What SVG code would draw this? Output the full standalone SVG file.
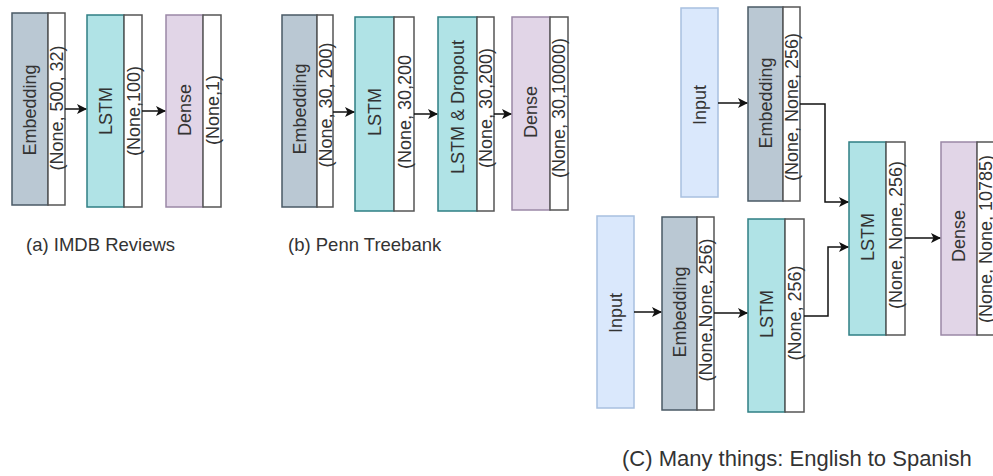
<svg xmlns="http://www.w3.org/2000/svg" width="993" height="476" viewBox="0 0 993 476">
<style>
.emb{fill:#bac8d3;stroke:#4a5a66;stroke-width:1.5}
.lstm{fill:#b0e3e6;stroke:#2f7f84;stroke-width:1.5}
.dense{fill:#e1d5e7;stroke:#9a88a6;stroke-width:1.5}
.inp{fill:#dae8fc;stroke:#a8c0e0;stroke-width:1.5}
.sh{fill:#ffffff;stroke:#555555;stroke-width:1.5}
.lbl{font-family:"Liberation Sans",Arial,sans-serif;font-size:18px;fill:#333333;text-anchor:middle;dominant-baseline:central}
.cap{font-family:"Liberation Sans",Arial,sans-serif;font-size:18.5px;fill:#333333}
.conn{fill:none;stroke:#111111;stroke-width:1.5}
</style>
<defs>
<marker id="ah" viewBox="0 0 10 10" refX="9" refY="5" markerWidth="10" markerHeight="10" markerUnits="userSpaceOnUse" orient="auto">
<path d="M0,0 L10,5 L0,10 L2.5,5 Z" fill="#111111"/>
</marker>
</defs>
<rect width="993" height="476" fill="#ffffff"/>

<!-- Panel (a) -->
<g id="a-embedding">
<rect class="emb" x="12" y="13" width="36" height="192"/>
<rect class="sh" x="48" y="13" width="17" height="192"/>
<text class="lbl" transform="translate(30,110) rotate(-90)">Embedding</text>
<text class="lbl" transform="translate(57,108) rotate(-90)">(None, 500, 32)</text>
</g>
<g id="a-lstm">
<rect class="lstm" x="87" y="15" width="37" height="192"/>
<rect class="sh" x="124" y="15" width="18" height="192"/>
<text class="lbl" transform="translate(105.5,111) rotate(-90)">LSTM</text>
<text class="lbl" transform="translate(134,111) rotate(-90)">(None,100)</text>
</g>
<g id="a-dense">
<rect class="dense" x="166" y="15" width="37" height="192"/>
<rect class="sh" x="203" y="15" width="18" height="192"/>
<text class="lbl" transform="translate(184.5,110) rotate(-90)">Dense</text>
<text class="lbl" transform="translate(213,110) rotate(-90)">(None,1)</text>
</g>
<g id="caption-a"><text class="cap" x="26" y="251">(a) IMDB Reviews</text></g>

<!-- Panel (b) -->
<g id="b-embedding">
<rect class="emb" x="282" y="15" width="35" height="192"/>
<rect class="sh" x="317" y="15" width="16" height="192"/>
<text class="lbl" transform="translate(300,109) rotate(-90)">Embedding</text>
<text class="lbl" transform="translate(325.5,105) rotate(-90)">(None, 30, 200)</text>
</g>
<g id="b-lstm">
<rect class="lstm" x="355" y="17" width="39" height="194"/>
<rect class="sh" x="394" y="17" width="20" height="194"/>
<text class="lbl" transform="translate(375,112) rotate(-90)">LSTM</text>
<text class="lbl" transform="translate(405,112) rotate(-90)">(None, 30,200</text>
</g>
<g id="b-lstm-dropout">
<rect class="lstm" x="438" y="17" width="39" height="194"/>
<rect class="sh" x="477" y="17" width="17" height="194"/>
<text class="lbl" transform="translate(458,107) rotate(-90)">LSTM &amp; Dropout</text>
<text class="lbl" transform="translate(486,108) rotate(-90)">(None, 30,200)</text>
</g>
<g id="b-dense">
<rect class="dense" x="512" y="17" width="38" height="193"/>
<rect class="sh" x="550" y="17" width="18" height="193"/>
<text class="lbl" transform="translate(531,112) rotate(-90)">Dense</text>
<text class="lbl" transform="translate(559,108) rotate(-90)">(None, 30,10000)</text>
</g>
<g id="caption-b"><text class="cap" x="288" y="251">(b) Penn Treebank</text></g>

<!-- Panel (c) -->
<g id="c-input-top">
<rect class="inp" x="681" y="8" width="37" height="189"/>
<text class="lbl" transform="translate(699.5,105) rotate(-90)">Input</text>
</g>
<g id="c-embedding-top">
<rect class="emb" x="748" y="7" width="35" height="194"/>
<rect class="sh" x="783" y="7" width="17" height="194"/>
<text class="lbl" transform="translate(766,103) rotate(-90)">Embedding</text>
<text class="lbl" transform="translate(792,107) rotate(-90)">(None, None, 256)</text>
</g>
<g id="c-lstm-mid">
<rect class="lstm" x="849" y="142" width="37" height="193"/>
<rect class="sh" x="886" y="142" width="19" height="193"/>
<text class="lbl" transform="translate(867.5,237) rotate(-90)">LSTM</text>
<text class="lbl" transform="translate(896,235) rotate(-90)">(None, None, 256)</text>
</g>
<g id="c-dense">
<rect class="dense" x="941" y="142" width="36" height="193"/>
<rect class="sh" x="977" y="142" width="19" height="193"/>
<text class="lbl" transform="translate(959,236) rotate(-90)">Dense</text>
<text class="lbl" transform="translate(986,239) rotate(-90)">(None, None, 10785)</text>
</g>
<g id="c-input-bottom">
<rect class="inp" x="597" y="216" width="37" height="192"/>
<text class="lbl" transform="translate(615.5,313) rotate(-90)">Input</text>
</g>
<g id="c-embedding-bottom">
<rect class="emb" x="662" y="217" width="35" height="193"/>
<rect class="sh" x="697" y="217" width="17" height="193"/>
<text class="lbl" transform="translate(680,312) rotate(-90)">Embedding</text>
<text class="lbl" transform="translate(706,310) rotate(-90)">(None,None, 256)</text>
</g>
<g id="c-lstm-bottom">
<rect class="lstm" x="748" y="219" width="37" height="193"/>
<rect class="sh" x="785" y="219" width="19" height="193"/>
<text class="lbl" transform="translate(766.5,314) rotate(-90)">LSTM</text>
<text class="lbl" transform="translate(795,313) rotate(-90)">(None, 256)</text>
</g>
<g id="caption-c"><text class="cap" x="622" y="466" style="font-size:22px">(C) Many things: English to Spanish</text></g>

<g id="connectors">
<path class="conn" marker-end="url(#ah)" d="M65,109 H86"/>
<path class="conn" marker-end="url(#ah)" d="M142,111 H165"/>
<path class="conn" marker-end="url(#ah)" d="M333,112 H354"/>
<path class="conn" marker-end="url(#ah)" d="M414,114 H437"/>
<path class="conn" marker-end="url(#ah)" d="M494,114 H511"/>
<path class="conn" marker-end="url(#ah)" d="M718,103 H747"/>
<path class="conn" marker-end="url(#ah)" d="M800,104 H825 V202 H848"/>
<path class="conn" marker-end="url(#ah)" d="M634,312 H661"/>
<path class="conn" marker-end="url(#ah)" d="M714,313 H747"/>
<path class="conn" marker-end="url(#ah)" d="M804,316 H828 V247 H848"/>
<path class="conn" marker-end="url(#ah)" d="M905,238 H940"/>
</g>
</svg>
